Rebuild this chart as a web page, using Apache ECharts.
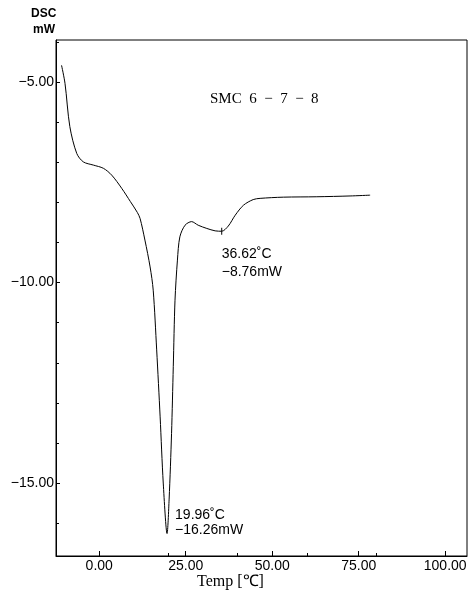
<!DOCTYPE html>
<html>
<head>
<meta charset="utf-8">
<script src="https://cdn.jsdelivr.net/npm/echarts@6/dist/echarts.min.js"></script>
<style>html,body{margin:0;padding:0;background:#fff}#c{width:476px;height:594px}</style>
</head>
<body>
<div id="c"></div>
<script>
// Data
var temps = [-10.9, -9.9, -8.5, -6.5, -4.6, -1.7, 1.2, 3.6, 6.5, 9.0, 11.0, 11.8, 13.2, 14.7, 15.6, 16.6, 17.6, 18.5, 19.6, 20.2, 20.9, 21.4, 21.9, 22.6, 23.3, 24.8, 26.7, 28.6, 31.1, 33.5, 35.4, 37.3, 39.3, 41.7, 44.5, 46.5, 53.2, 62.9, 72.5, 78.3];
var dsc = [-4.58, -5.03, -6.11, -6.78, -6.99, -7.07, -7.15, -7.32, -7.65, -7.98, -8.25, -8.40, -8.94, -9.61, -10.19, -11.68, -13.35, -15.0, -16.26, -15.4, -13.76, -12.1, -10.44, -9.44, -8.86, -8.57, -8.48, -8.57, -8.65, -8.71, -8.72, -8.59, -8.32, -8.07, -7.93, -7.90, -7.87, -7.86, -7.84, -7.82];
var xTickLabels = [0, 25, 50, 75, 100];
var xMinorTicks = [20, 40, 60, 80];
var yTickLabels = [-5, -10, -15];
var yMinorTicks = [-4, -6, -7, -8, -9, -11, -12, -13, -14, -16];
var peak1 = {x: 19.6, y: -16.26, t: '19.96˚C', v: '−16.26mW'};
var peak2 = {x: 35.4, y: -8.72, t: '36.62˚C', v: '−8.76mW'};

var fmt = function (v) { return (v < 0 ? '−' : '') + Math.abs(v).toFixed(2); };
var chart = echarts.init(document.getElementById('c'));
var labelFont = {color: '#000', fontFamily: 'Liberation Sans', fontSize: 14};
chart.setOption({
  animation: false,
  grid: {left: 56, right: 9, top: 40, bottom: 38, show: true, borderColor: '#000', borderWidth: 1, backgroundColor: 'transparent'},
  xAxis: [{
    type: 'value', min: -12.5, max: 106.3,
    axisLine: {onZero: false, lineStyle: {color: '#000', width: 1}},
    axisTick: {inside: true, length: 5, customValues: xTickLabels, lineStyle: {color: '#000'}},
    axisLabel: Object.assign({customValues: xTickLabels, formatter: fmt, margin: 3}, labelFont),
    splitLine: {show: false}
  }, {
    type: 'value', min: -12.5, max: 106.3, position: 'bottom',
    axisLine: {show: false, onZero: false},
    axisTick: {inside: true, length: 3, customValues: xMinorTicks, lineStyle: {color: '#000'}},
    axisLabel: {show: false},
    splitLine: {show: false}
  }],
  yAxis: [{
    type: 'value', min: -16.82, max: -3.95,
    axisLine: {show: true, onZero: false, lineStyle: {color: '#000', width: 1}},
    axisTick: {show: true, inside: true, length: 4, customValues: yTickLabels, lineStyle: {color: '#000'}},
    axisLabel: Object.assign({customValues: yTickLabels, formatter: fmt, margin: 2}, labelFont),
    splitLine: {show: false}
  }, {
    type: 'value', min: -16.82, max: -3.95, position: 'left',
    axisLine: {show: false, onZero: false},
    axisTick: {show: true, inside: true, length: 3, customValues: yMinorTicks, lineStyle: {color: '#000'}},
    axisLabel: {show: false},
    splitLine: {show: false}
  }],
  series: [{
    type: 'line',
    data: temps.map(function (t, i) { return [t, dsc[i]]; }),
    showSymbol: false,
    smooth: 0.3,
    lineStyle: {color: '#000', width: 1},
    markPoint: {
      silent: true,
      data: [
        {coord: [peak2.x, peak2.y], symbol: 'rect', symbolSize: [1, 7], itemStyle: {color: '#000'},
         label: {show: true, formatter: peak2.t + '\n' + peak2.v, position: 'inside', offset: [0, 14], align: 'left', verticalAlign: 'top', lineHeight: 18, color: '#000', fontFamily: 'Liberation Sans', fontSize: 14}},
        {coord: [peak1.x, peak1.y], symbol: 'rect', symbolSize: [0, 0],
         label: {show: true, formatter: peak1.t + '\n' + peak1.v, position: 'inside', offset: [8, -26], align: 'left', verticalAlign: 'top', lineHeight: 15, color: '#000', fontFamily: 'Liberation Sans', fontSize: 14}}
      ]
    }
  }],
  graphic: [
    {type: 'text', left: 31, top: 8, style: {text: 'DSC', font: 'bold 12px "Liberation Sans"', fill: '#000'}},
    {type: 'text', left: 33, top: 24, style: {text: 'mW', font: 'bold 12px "Liberation Sans"', fill: '#000'}},
    {type: 'text', left: 210, top: 92, style: {text: 'SMC  6  −  7  −  8', font: '15px "Liberation Serif"', fill: '#000'}},
    {type: 'text', left: 197, top: 574, style: {text: 'Temp [℃]', font: '16px "Liberation Serif"', fill: '#000'}}
  ]
});
</script>
</body>
</html>
